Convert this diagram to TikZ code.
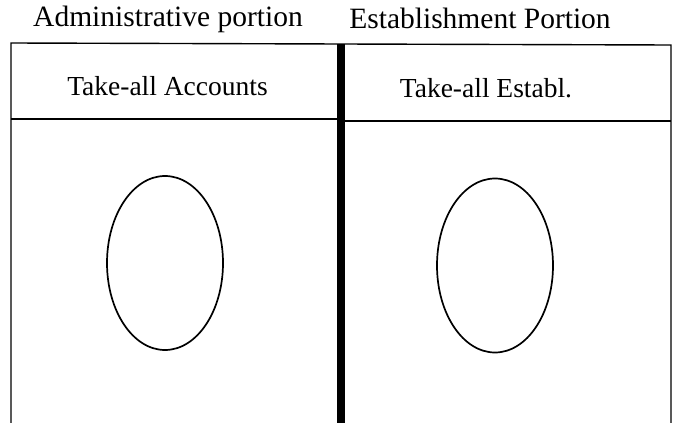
\documentclass[tikz,border=0pt]{standalone}
\usepackage{fontspec}
\setmainfont{Liberation Serif}
\usetikzlibrary{shapes.geometric}
\begin{document}
\begin{tikzpicture}[x=1pt,y=-1pt,
  thinline/.style={line width=1.4pt},
  divider/.style={line width=7.5pt},
  oval/.style={draw,ellipse,line width=1.7pt,minimum width=116pt,minimum height=174pt,inner sep=0pt},
  titletext/.style={font=\fontsize{29.5}{32}\selectfont,anchor=base,inner sep=0pt},
  headtext/.style={font=\fontsize{27.5}{30}\selectfont,anchor=base,inner sep=0pt}]
\useasboundingbox (0,0) rectangle (673,423);
% frame
\coordinate (tl) at (11,43);
\coordinate (tr) at (671,45);
\coordinate (bl) at (11,423);
\coordinate (br) at (671,423);
\coordinate (dt) at (341,44);
\coordinate (db) at (341,423);
\coordinate (hl1) at (11,119);
\coordinate (hl2) at (341,119);
\coordinate (hr1) at (341,121);
\coordinate (hr2) at (671,121);
\draw[thinline] (bl) -- (tl) -- (tr) -- (br);
\draw[thinline] (hl1) -- (hl2);
\draw[thinline] (hr1) -- (hr2);
\draw[divider] (dt) -- (db);
% titles
\node[titletext] (admin) at (168,27) {Administrative portion};
\node[titletext] (estab) at (480,28) {Establishment Portion};
\node[headtext] (tacc) at (167.5,95) {Take-all Accounts};
\node[headtext] (test) at (486,97) {Take-all Establ.};
% ovals
\node[oval] (e1) at (165,263) {};
\node[oval] (e2) at (495,265.5) {};
\end{tikzpicture}
\end{document}
